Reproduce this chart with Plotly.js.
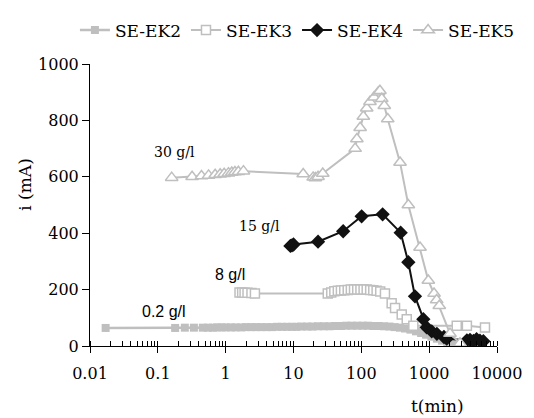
<!DOCTYPE html>
<html>
<head>
<meta charset="utf-8">
<script src="https://cdn.plot.ly/plotly-3.0.1.min.js"></script>
<style>
html,body{margin:0;padding:0;background:#fff;}
#chart{width:534px;height:418px;}
</style>
</head>
<body>
<div id="chart"></div>
<script>
// SE-EK2 (0.2 g/l)
var ek2X = [0.017, 0.18, 0.25, 0.34, 0.46, 0.55, 0.65, 0.75, 0.87, 1.0, 1.2, 1.4, 1.7, 2.0, 2.4, 2.8, 3.3, 4.0, 4.8, 5.7, 6.8, 8.0, 9.5, 11, 13, 16, 19, 23, 28, 34, 41, 50, 60, 72, 87, 105, 125, 150, 180, 215, 260, 310, 370, 440, 530, 640, 760, 900, 1080, 1300, 1550, 1850, 2200, 2600, 3000];
var ek2Y = [64, 64, 65, 65, 65, 65, 65, 66, 66, 66, 66, 66, 66, 67, 67, 67, 67, 67, 67, 68, 68, 68, 68, 68, 69, 69, 69, 70, 70, 70, 71, 71, 72, 72, 72, 72, 72, 71, 71, 70, 69, 67, 65, 62, 58, 52, 46, 40, 33, 26, 19, 12, 7, 3, 1];
// SE-EK3 (8 g/l)
var ek3X = [1.6, 1.75, 1.9, 2.1, 2.4, 2.7, 32, 36, 40, 45, 50, 56, 63, 70, 78, 87, 97, 108, 120, 135, 150, 168, 190, 223, 280, 314, 394, 467, 584, 2550, 3600, 6650];
var ek3Y = [190, 190, 189, 189, 188, 186, 186, 190, 194, 196, 197, 198, 199, 200, 200, 200, 200, 200, 200, 199, 198, 196, 193, 186, 152, 135, 112, 95, 72, 72, 72, 66];
// SE-EK4 (15 g/l)
var ek4X = [9.0, 9.5, 10.0, 23, 54, 101, 206, 380, 493, 618, 820, 919, 1090, 1300, 1650, 1815, 3600, 4000, 4500, 5000, 5600, 6300];
var ek4Y = [355, 357, 360, 370, 407, 460, 467, 402, 297, 176, 95, 66, 52, 43, 32, 26, 20, 22, 18, 24, 19, 17];
// SE-EK5 (30 g/l)
var ek5X = [0.16, 0.32, 0.44, 0.56, 0.70, 0.83, 0.95, 1.10, 1.23, 1.37, 1.54, 1.83, 13.9, 19.5, 21, 23, 27, 81, 86, 96, 107, 120, 134, 154, 178, 188, 200, 218, 245, 372, 493, 733, 972, 1180, 1290, 1410, 2030, 2850];
var ek5Y = [597, 600, 603, 605, 607, 609, 611, 613, 615, 617, 618, 620, 610, 598, 596, 600, 612, 700, 734, 774, 814, 843, 866, 882, 900, 905, 877, 852, 805, 651, 500, 349, 232, 186, 163, 143, 44, 10];

var seriesNames = ['SE-EK2', 'SE-EK3', 'SE-EK4', 'SE-EK5'];
var xTickVals = [0.01, 0.1, 1, 10, 100, 1000, 10000];
var xTickText = ['0.01', '0.1', '1', '10', '100', '1000', '10000'];
var yTickVals = [0, 200, 400, 600, 800, 1000];
var labelText = ['30 g/l', '15 g/l', '8 g/l', '0.2 g/l'];

var gray = '#BFBFBF';
var serif = 'DejaVu Serif';
var sans = 'Liberation Sans';

var traces = [
  {x: ek2X, y: ek2Y, name: seriesNames[0], mode: 'lines+markers', type: 'scatter',
   line: {color: gray, width: 2.5}, marker: {symbol: 'square', size: 8, color: gray}},
  {x: ek3X, y: ek3Y, name: seriesNames[1], mode: 'lines+markers', type: 'scatter',
   line: {color: gray, width: 2}, marker: {symbol: 'square', size: 9, color: '#fff', line: {color: gray, width: 1.5}}},
  {x: ek4X, y: ek4Y, name: seriesNames[2], mode: 'lines+markers', type: 'scatter',
   line: {color: '#111', width: 2}, marker: {symbol: 'diamond', size: 11, color: '#111'}},
  {x: ek5X, y: ek5Y, name: seriesNames[3], mode: 'lines+markers', type: 'scatter',
   line: {color: gray, width: 2}, marker: {symbol: 'triangle-up', size: 11, color: '#fff', line: {color: gray, width: 1.5}}}
];

var layout = {
  width: 534, height: 418,
  margin: {l: 90, r: 37, t: 54, b: 72},
  paper_bgcolor: '#fff', plot_bgcolor: '#fff',
  font: {family: serif, size: 16, color: '#000'},
  showlegend: true,
  legend: {orientation: 'h', xref: 'paper', yref: 'paper', x: -0.037, y: 1.055, xanchor: 'left', yanchor: 'bottom',
           font: {family: serif, size: 17, color: '#000'}, itemwidth: 30, tracegroupgap: 0},
  xaxis: {type: 'log', range: [-2, 4], tickvals: xTickVals, ticktext: xTickText, automargin: false,
          showgrid: false, zeroline: false, showline: true, linecolor: '#000', linewidth: 1,
          ticks: 'outside', ticklen: 6, tickcolor: '#000', tickwidth: 1, ticklabelstandoff: 7,
          minor: {ticks: 'inside', ticklen: 5, tickcolor: '#000', tickwidth: 1, dtick: 'D1', showgrid: false},
          tickfont: {family: serif, size: 16, color: '#000'}},
  yaxis: {range: [0, 1000], tickvals: yTickVals, showgrid: false, zeroline: false, automargin: false,
          showline: true, linecolor: '#000', linewidth: 1,
          ticks: 'outside', ticklen: 7, tickcolor: '#000', tickwidth: 1,
          tickfont: {family: serif, size: 16, color: '#000'}},
  annotations: [
    {text: 'i (mA)', xref: 'paper', yref: 'paper', x: -0.16, y: 0.575, xanchor: 'center', yanchor: 'middle',
     textangle: -90, showarrow: false, font: {family: serif, size: 17, color: '#000'}},
    {text: 't(min)', xref: 'paper', yref: 'paper', x: 0.855, y: -0.214, xanchor: 'center', yanchor: 'middle',
     showarrow: false, font: {family: serif, size: 17, color: '#000'}},
    {text: labelText[0], xref: 'x', yref: 'y', x: Math.log10(0.179), y: 688, showarrow: false,
     xanchor: 'center', yanchor: 'middle', font: {family: serif, size: 14, color: '#000'}},
    {text: labelText[1], xref: 'x', yref: 'y', x: Math.log10(3.1), y: 425, showarrow: false,
     xanchor: 'center', yanchor: 'middle', font: {family: serif, size: 14, color: '#000'}},
    {text: labelText[2], xref: 'x', yref: 'y', x: Math.log10(1.16), y: 253, showarrow: false,
     xanchor: 'center', yanchor: 'middle', font: {family: sans, size: 16, color: '#000'}},
    {text: labelText[3], xref: 'x', yref: 'y', x: Math.log10(0.123), y: 123, showarrow: false,
     xanchor: 'center', yanchor: 'middle', font: {family: sans, size: 16, color: '#000'}}
  ]
};

Plotly.newPlot('chart', traces, layout, {displayModeBar: false, staticPlot: true});
</script>
</body>
</html>
